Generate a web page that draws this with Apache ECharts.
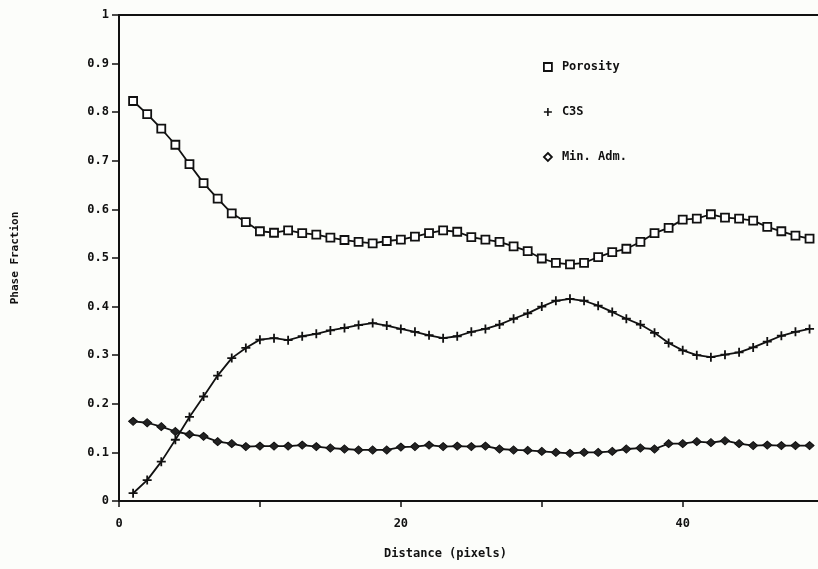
<!DOCTYPE html>
<html>
<head>
<meta charset="utf-8">
<script src="https://cdn.jsdelivr.net/npm/echarts@6/dist/echarts.min.js"></script>
<style>
  html, body { margin: 0; padding: 0; background: #fcfdfa; }
  #main { width: 818px; height: 569px; }
</style>
</head>
<body>
<div id="main"></div>
<script>
var distance = [1, 2, 3, 4, 5, 6, 7, 8, 9, 10,
    11, 12, 13, 14, 15, 16, 17, 18, 19, 20,
    21, 22, 23, 24, 25, 26, 27, 28, 29, 30,
    31, 32, 33, 34, 35, 36, 37, 38, 39, 40,
    41, 42, 43, 44, 45, 46, 47, 48, 49];

var porosity = [0.823, 0.796, 0.766, 0.733, 0.693, 0.654, 0.622, 0.592, 0.574, 0.555,
    0.552, 0.557, 0.551, 0.548, 0.542, 0.537, 0.533, 0.530, 0.535, 0.538,
    0.544, 0.551, 0.557, 0.554, 0.543, 0.538, 0.533, 0.524, 0.514, 0.499,
    0.490, 0.487, 0.490, 0.502, 0.512, 0.519, 0.533, 0.551, 0.562, 0.579,
    0.581, 0.590, 0.583, 0.581, 0.577, 0.564, 0.555, 0.546, 0.540];

var c3s = [0.016, 0.043, 0.081, 0.126, 0.173, 0.215, 0.258, 0.294, 0.315, 0.332,
    0.335, 0.331, 0.339, 0.344, 0.351, 0.356, 0.362, 0.366, 0.361, 0.354,
    0.348, 0.341, 0.335, 0.339, 0.348, 0.354, 0.363, 0.375, 0.386, 0.400,
    0.412, 0.416, 0.412, 0.402, 0.389, 0.375, 0.363, 0.346, 0.325, 0.310,
    0.300, 0.296, 0.301, 0.306, 0.316, 0.328, 0.340, 0.348, 0.354];

var minAdm = [0.164, 0.161, 0.153, 0.143, 0.137, 0.133, 0.122, 0.118, 0.112, 0.113,
    0.113, 0.113, 0.115, 0.112, 0.109, 0.107, 0.105, 0.105, 0.105, 0.111,
    0.112, 0.115, 0.112, 0.113, 0.112, 0.113, 0.107, 0.105, 0.104, 0.102,
    0.100, 0.098, 0.100, 0.100, 0.102, 0.107, 0.109, 0.107, 0.118, 0.118,
    0.122, 0.120, 0.124, 0.118, 0.114, 0.115, 0.114, 0.114, 0.114];

var xLabels = [0, 20, 40];

function pairs(ys) {
    return distance.map(function (d, i) { return [d, ys[i]]; });
}

var plusPath = 'path://M3.2,0H4.8V3.2H8V4.8H4.8V8H3.2V4.8H0V3.2H3.2Z';
var font = '"DejaVu Sans Mono", monospace';
var ink = '#111';

var chart = echarts.init(document.getElementById('main'));

var option = {
    backgroundColor: '#fcfdfa',
    animation: false,
    grid: { left: 119, right: 0, top: 15, bottom: 68 },
    legend: {
        orient: 'vertical',
        left: 538,
        top: 56,
        itemWidth: 8,
        itemHeight: 8,
        itemGap: 33,
        textStyle: { fontFamily: font, fontWeight: 'bold', fontSize: 12, color: ink, padding: [0, 0, 0, 5] },
        data: [
            { name: 'Porosity', icon: 'rect', itemStyle: { color: '#fff', borderColor: ink, borderWidth: 1.8 } },
            { name: 'C3S', icon: plusPath, itemStyle: { color: ink, borderWidth: 0 } },
            { name: 'Min. Adm.', icon: 'diamond', itemStyle: { color: '#fff', borderColor: ink, borderWidth: 1.8 } }
        ]
    },
    xAxis: [{
        type: 'value',
        min: 0,
        max: 49.6,
        interval: 10,
        name: 'Distance (pixels)',
        nameLocation: 'middle',
        nameGap: 47,
        nameTextStyle: { fontFamily: font, fontWeight: 'bold', fontSize: 12, color: ink, padding: [0, 46, 0, 0] },
        axisLine: { lineStyle: { color: ink, width: 2 } },
        axisTick: { length: 6, lineStyle: { color: ink, width: 1.5 } },
        axisLabel: {
            margin: 17,
            showMaxLabel: false,
            fontFamily: font, fontWeight: 'bold', fontSize: 12, color: ink,
            formatter: function (v) { return xLabels.indexOf(v) >= 0 ? String(v) : ''; }
        },
        splitLine: { show: false }
    }, {
        type: 'value',
        position: 'top',
        min: 0,
        max: 49.6,
        axisLine: { show: true, lineStyle: { color: ink, width: 2 } },
        axisTick: { show: false },
        axisLabel: { show: false },
        splitLine: { show: false }
    }],
    yAxis: {
        type: 'value',
        min: 0,
        max: 1,
        interval: 0.1,
        name: 'Phase Fraction',
        nameLocation: 'middle',
        nameGap: 98,
        nameTextStyle: { fontFamily: font, fontWeight: 'bold', fontSize: 11, color: ink },
        axisLine: { show: true, lineStyle: { color: ink, width: 2 } },
        axisTick: { length: 7, lineStyle: { color: ink, width: 1.5 } },
        axisLabel: {
            margin: 10,
            fontFamily: font, fontWeight: 'bold', fontSize: 12, color: ink,
            formatter: function (v) { return v === 0 ? '0' : (v >= 1 ? '1' : v.toFixed(1)); }
        },
        splitLine: { show: false }
    },
    series: [{
        name: 'Porosity',
        type: 'line',
        data: pairs(porosity),
        symbol: 'rect',
        symbolSize: 8,
        lineStyle: { color: ink, width: 1.8 },
        itemStyle: { color: '#fff', borderColor: ink, borderWidth: 1.8 },
        z: 3
    }, {
        name: 'C3S',
        type: 'line',
        data: pairs(c3s),
        symbol: plusPath,
        symbolSize: 9,
        lineStyle: { color: ink, width: 1.8 },
        itemStyle: { color: ink, borderWidth: 0 },
        z: 2
    }, {
        name: 'Min. Adm.',
        type: 'line',
        data: pairs(minAdm),
        symbol: 'diamond',
        symbolSize: [9, 8],
        lineStyle: { color: ink, width: 1.8 },
        itemStyle: { color: '#222', borderColor: ink, borderWidth: 1 },
        z: 2
    }]
};

chart.setOption(option);
</script>
</body>
</html>
